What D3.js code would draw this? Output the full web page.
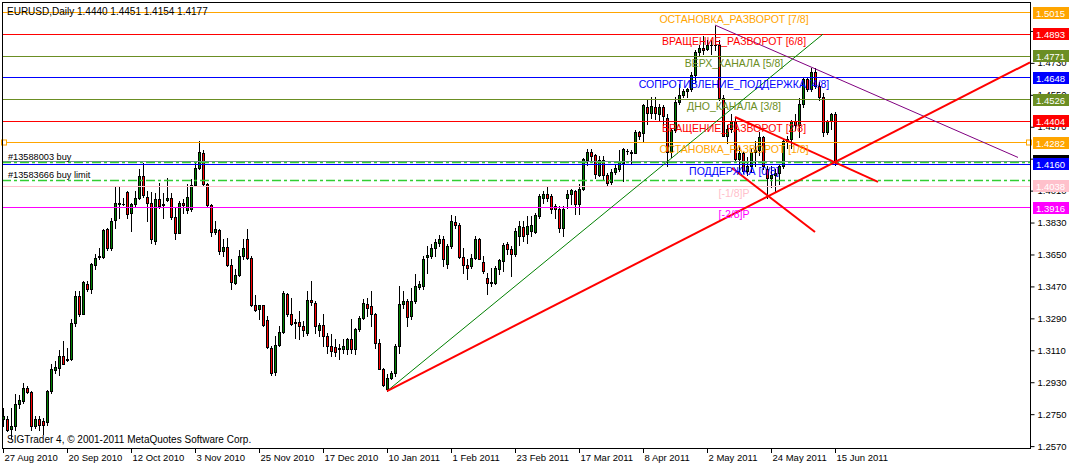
<!DOCTYPE html>
<html><head><meta charset="utf-8">
<script src="https://cdn.jsdelivr.net/npm/d3@7"></script>
<style>
body{margin:0;background:#fff}
svg{display:block}
text{font-family:"Liberation Sans",Arial,sans-serif}
</style>
</head><body>
<svg id="c" width="1070" height="465"></svg>
<script>
// ---------------- DATA ----------------
const title = "EURUSD,Daily  1.4440 1.4451 1.4154 1.4177";
const copyright = "SIGTrader 4, © 2001-2011 MetaQuotes Software Corp.";
const tickLabels = ["27 Aug 2010","20 Sep 2010","12 Oct 2010","3 Nov 2010","25 Nov 2010","17 Dec 2010","10 Jan 2011","1 Feb 2011","23 Feb 2011","17 Mar 2011","8 Apr 2011","2 May 2011","24 May 2011","15 Jun 2011"];
const tickBars = [0,16,32,48,64,80,96,112,128,144,160,176,192,208];
const priceTicks = [1.2570,1.2750,1.2930,1.3110,1.3290,1.3470,1.3650,1.3830,1.4010,1.4190,1.4370,1.4550,1.4730,1.4910];

const opens = [1.2720,1.2720,1.2667,1.2682,1.2810,1.2823,1.2896,1.2876,1.2682,1.2723,1.2710,1.2705,1.2883,1.2998,1.3011,1.3077,1.3058,1.3062,1.3265,1.3415,
1.3317,1.3485,1.3457,1.3588,1.3633,1.3637,1.3791,1.3688,1.3844,1.3934,1.3934,1.4004,1.3881,1.3932,1.3966,1.4092,1.3975,1.3942,1.3725,1.3964,
1.3932,1.3957,1.3970,1.3863,1.3772,1.3938,1.3900,1.3904,1.4041,1.4135,1.4220,1.4045,1.3927,1.3776,1.3787,1.3669,1.3693,1.3590,1.3490,1.3535,
1.3641,1.3739,1.3630,1.3368,1.3340,1.3364,1.3278,1.3124,1.2988,1.3142,1.3214,1.3425,1.3312,1.3265,1.3268,1.3246,1.3208,1.3393,1.3378,1.3222,
1.3250,1.3190,1.3134,1.3130,1.3115,1.3119,1.3119,1.3171,1.3119,1.3228,1.3294,1.3369,1.3359,1.3312,1.3153,1.3006,1.2893,1.2955,1.2983,1.3134,
1.3369,1.3388,1.3303,1.3388,1.3469,1.3472,1.3638,1.3641,1.3688,1.3717,1.3739,1.3594,1.3698,1.3833,1.3814,1.3638,1.3589,1.3585,1.3632,1.3735,
1.3608,1.3515,1.3491,1.3491,1.3566,1.3613,1.3707,1.3683,1.3655,1.3754,1.3805,1.3763,1.3782,1.3777,1.3867,1.3970,1.3993,1.3980,1.3923,1.3908,
1.3801,1.3970,1.3993,1.4008,1.3933,1.4021,1.4183,1.4228,1.4209,1.4096,1.4183,1.4096,1.4060,1.4115,1.4130,1.4168,1.4234,1.4224,1.4224,1.4341,
1.4337,1.4484,1.4450,1.4484,1.4440,1.4480,1.4420,1.4230,1.4350,1.4510,1.4550,1.4570,1.4580,1.4660,1.4790,1.4815,1.4810,1.4830,1.4830,1.4830,
1.4530,1.4320,1.4360,1.4400,1.4190,1.4220,1.4120,1.4150,1.4230,1.4240,1.4310,1.4130,1.4080,1.4100,1.4110,1.4150,1.4290,1.4300,1.4400,1.4380,
1.4500,1.4640,1.4580,1.4680,1.4600,1.4540,1.4340,1.4400,1.4440];
const highs = [1.2785,1.2739,1.2785,1.2861,1.2859,1.2926,1.2908,1.2879,1.2739,1.2739,1.2729,1.2889,1.3030,1.3049,1.3114,1.3161,1.3124,1.3287,1.3443,1.3443,
1.3500,1.3500,1.3603,1.3650,1.3688,1.3791,1.3801,1.3857,1.4036,1.4036,1.3970,1.4007,1.3942,1.4007,1.4130,1.4167,1.4007,1.4002,1.3998,1.4054,
1.3998,1.4083,1.3998,1.3913,1.3951,1.3960,1.4045,1.4073,1.4177,1.4288,1.4240,1.4054,1.3932,1.3838,1.3791,1.3735,1.3744,1.3622,1.3566,1.3678,
1.3735,1.3791,1.3641,1.3419,1.3368,1.3368,1.3302,1.3133,1.3190,1.3246,1.3443,1.3434,1.3406,1.3284,1.3331,1.3275,1.3443,1.3500,1.3387,1.3265,
1.3312,1.3208,1.3200,1.3171,1.3143,1.3171,1.3181,1.3284,1.3237,1.3303,1.3397,1.3406,1.3444,1.3322,1.3175,1.3012,1.2974,1.2993,1.3143,1.3472,
1.3444,1.3397,1.3463,1.3538,1.3500,1.3641,1.3698,1.3707,1.3735,1.3758,1.3754,1.3707,1.3871,1.3867,1.3828,1.3688,1.3623,1.3650,1.3754,1.3745,
1.3641,1.3547,1.3576,1.3585,1.3626,1.3713,1.3720,1.3698,1.3801,1.3839,1.3839,1.3867,1.3867,1.3882,1.3989,1.4008,1.4036,1.3989,1.3933,1.3923,
1.3923,1.4014,1.4021,1.4014,1.4046,1.4196,1.4247,1.4243,1.4215,1.4205,1.4205,1.4108,1.4130,1.4158,1.4239,1.4252,1.4243,1.4239,1.4352,1.4346,
1.4497,1.4525,1.4540,1.4540,1.4500,1.4490,1.4440,1.4360,1.4540,1.4610,1.4580,1.4590,1.4680,1.4800,1.4830,1.4880,1.4860,1.4860,1.4940,1.4860,
1.4550,1.4380,1.4440,1.4420,1.4260,1.4230,1.4200,1.4250,1.4290,1.4340,1.4320,1.4150,1.4150,1.4130,1.4160,1.4300,1.4320,1.4410,1.4440,1.4530,
1.4650,1.4650,1.4700,1.4700,1.4620,1.4560,1.4410,1.4450,1.4451];
const lows = [1.2682,1.2654,1.2616,1.2663,1.2785,1.2814,1.2870,1.2663,1.2673,1.2663,1.2641,1.2691,1.2870,1.2983,1.2973,1.3030,1.3049,1.3058,1.3246,1.3302,
1.3312,1.3443,1.3434,1.3566,1.3622,1.3631,1.3678,1.3678,1.3801,1.3857,1.3928,1.3857,1.3782,1.3923,1.3960,1.3975,1.3838,1.3716,1.3707,1.3913,
1.3857,1.3951,1.3848,1.3739,1.3769,1.3885,1.3885,1.3895,1.4036,1.4130,1.4036,1.3923,1.3754,1.3763,1.3650,1.3641,1.3584,1.3453,1.3481,1.3528,
1.3622,1.3622,1.3359,1.3331,1.3287,1.3246,1.3124,1.2973,1.2973,1.3133,1.3208,1.3302,1.3255,1.3180,1.3171,1.3190,1.3199,1.3368,1.3208,1.3190,
1.3133,1.3096,1.3077,1.3077,1.3059,1.3096,1.3087,1.3096,1.3087,1.3218,1.3284,1.3303,1.3247,1.3124,1.3002,1.2908,1.2880,1.2946,1.2965,1.3096,
1.3350,1.3247,1.3284,1.3378,1.3453,1.3453,1.3547,1.3632,1.3641,1.3698,1.3585,1.3576,1.3688,1.3801,1.3632,1.3547,1.3510,1.3576,1.3623,1.3623,
1.3547,1.3425,1.3472,1.3482,1.3538,1.3557,1.3651,1.3529,1.3641,1.3702,1.3726,1.3717,1.3754,1.3773,1.3858,1.3942,1.3952,1.3886,1.3858,1.3777,
1.3754,1.3914,1.3933,1.3876,1.3876,1.4014,1.4153,1.4177,1.4083,1.4092,1.4074,1.4036,1.4046,1.4102,1.4121,1.4064,1.4215,1.4158,1.4221,1.4303,
1.4290,1.4384,1.4422,1.4412,1.4400,1.4380,1.4150,1.4200,1.4340,1.4500,1.4540,1.4540,1.4570,1.4620,1.4770,1.4780,1.4800,1.4780,1.4800,1.4520,
1.4320,1.4280,1.4340,1.4180,1.4110,1.4110,1.4100,1.4120,1.4150,1.4210,1.4130,1.3970,1.4030,1.4000,1.4050,1.4140,1.4250,1.4250,1.4350,1.4310,
1.4480,1.4570,1.4570,1.4590,1.4520,1.4320,1.4330,1.4360,1.4154];
const closes = [1.2739,1.2663,1.2682,1.2808,1.2829,1.2896,1.2876,1.2682,1.2723,1.2691,1.2691,1.2883,1.3002,1.3017,1.3077,1.3035,1.3062,1.3265,1.3415,1.3312,
1.3494,1.3453,1.3594,1.3631,1.3641,1.3787,1.3688,1.3838,1.3938,1.3938,1.3936,1.3880,1.3932,1.3966,1.4092,1.3983,1.3942,1.3735,1.3964,1.3923,
1.3928,1.3970,1.3863,1.3772,1.3938,1.3927,1.3975,1.4041,1.4139,1.4225,1.4045,1.3927,1.3776,1.3791,1.3669,1.3693,1.3590,1.3494,1.3537,1.3641,
1.3688,1.3630,1.3368,1.3336,1.3364,1.3252,1.3129,1.2983,1.3142,1.3214,1.3434,1.3312,1.3261,1.3267,1.3246,1.3223,1.3393,1.3381,1.3246,1.3250,
1.3190,1.3133,1.3106,1.3102,1.3124,1.3134,1.3171,1.3119,1.3232,1.3294,1.3374,1.3350,1.3312,1.3153,1.3006,1.2912,1.2955,1.2983,1.3134,1.3369,
1.3388,1.3299,1.3388,1.3472,1.3482,1.3626,1.3645,1.3688,1.3720,1.3739,1.3623,1.3698,1.3839,1.3814,1.3638,1.3589,1.3576,1.3632,1.3735,1.3626,
1.3557,1.3491,1.3493,1.3576,1.3617,1.3702,1.3683,1.3655,1.3782,1.3811,1.3754,1.3811,1.3814,1.3871,1.3980,1.3993,1.3970,1.3908,1.3905,1.3801,
1.3908,1.3993,1.4014,1.3933,1.4021,1.4187,1.4228,1.4205,1.4102,1.4183,1.4096,1.4051,1.4115,1.4140,1.4172,1.4243,1.4236,1.4228,1.4341,1.4318,
1.4491,1.4446,1.4487,1.4450,1.4480,1.4430,1.4230,1.4350,1.4510,1.4550,1.4570,1.4580,1.4660,1.4790,1.4815,1.4805,1.4830,1.4830,1.4830,1.4530,
1.4320,1.4360,1.4400,1.4190,1.4220,1.4120,1.4150,1.4230,1.4240,1.4310,1.4150,1.4080,1.4100,1.4110,1.4150,1.4290,1.4300,1.4400,1.4380,1.4500,
1.4640,1.4580,1.4680,1.4600,1.4540,1.4340,1.4400,1.4440,1.4177];

const murreyPrices = [1.5015,1.4893,1.4771,1.4648,1.4526,1.4404,1.4282,1.4160,1.4038,1.3916];
const murreyNames = ["ОСТАНОВКА_РАЗВОРОТ [7/8]","ВРАЩЕНИЕ_РАЗВОРОТ [6/8]","ВЕРХ_КАНАЛА [5/8]","СОПРОТИВЛЕНИЕ_ПОДДЕРЖКА [4/8]","ДНО_КАНАЛА [3/8]","ВРАЩЕНИЕ_РАЗВОРОТ [2/8]","ОСТАНОВКА_РАЗВОРОТ [1/8]","ПОДДЕРЖКА [0/8]","[-1/8]P","[-2/8]P"];
const murreyColors = ["#ffa500","#ff0000","#6b8e23","#0000ff","#6b8e23","#ff0000","#ffa500","#0000ff","#ffc0cb","#ff00ff"];

const orderPrices = [1.4178, 1.4070];
const orderNames = ["#13588003 buy", "#13583666 buy limit"];
const orderTpPrice = 1.4171;
const bidPrice = 1.4177;

// trend objects: [bar, price] anchor pairs
const greenTrendBars = [96, 205],  greenTrendPrices = [1.2880, 1.4892];
const redRayBars = [96, 191],      redRayPrices = [1.2880, 1.3975];
const redX1Bars = [183, 218.75],   redX1Prices = [1.4425, 1.4059];
const redX2Bars = [182.25, 203],   redX2Prices = [1.4137, 1.3777];
const purpleBars = [178, 253.75],  purplePrices = [1.4943, 1.4197];

// ---------------- DRAW ----------------
const svg = d3.select("#c");
const L = 2, R = 1030, T = 2, B = 448;
const x = d3.scaleLinear().domain([0, 208]).range([3, 835]);
const y = d3.scaleLinear().domain([1.2570, 1.5015]).range([446.1, 12.3]);
const py = v => Math.round(y(v)) + 0.5;

svg.append("defs").append("clipPath").attr("id","clip")
  .append("rect").attr("x",L).attr("y",T).attr("width",R-L).attr("height",B-T);
const plot = svg.append("g").attr("clip-path","url(#clip)");

// candles
const bars = d3.range(opens.length);
const cg = plot.append("g").attr("shape-rendering","crispEdges");
bars.forEach(i => {
  const cx = Math.round(x(i));
  const o = opens[i], c = closes[i], h = highs[i], l = lows[i];
  cg.append("rect").attr("x",cx).attr("width",1)
    .attr("y",Math.round(y(h))).attr("height",Math.max(1,Math.round(y(l))-Math.round(y(h))+1)).attr("fill","#000");
  const top = Math.round(y(Math.max(o,c))), bot = Math.round(y(Math.min(o,c)));
  if (bot - top < 1) {
    cg.append("rect").attr("x",cx-1).attr("width",3).attr("y",top).attr("height",1).attr("fill","#000");
  } else {
    cg.append("rect").attr("x",cx-1).attr("width",3).attr("y",top).attr("height",bot-top+1).attr("fill","#000");
    if (bot - top - 1 > 0)
      cg.append("rect").attr("x",cx).attr("width",1).attr("y",top+1).attr("height",bot-top-1)
        .attr("fill", c >= o ? "#008000" : "#ff0000");
  }
});

// murrey horizontal levels
murreyPrices.forEach((p,k) => {
  plot.append("line").attr("x1",L).attr("x2",R).attr("y1",py(p)).attr("y2",py(p))
    .attr("stroke",murreyColors[k]).attr("stroke-width",1);
});
// order lines
plot.append("line").attr("x1",L).attr("x2",R).attr("y1",py(orderPrices[0])).attr("y2",py(orderPrices[0]))
  .attr("stroke","#778899");
[orderTpPrice, orderPrices[1]].forEach(p => {
  plot.append("line").attr("x1",L).attr("x2",R).attr("y1",py(p)).attr("y2",py(p))
    .attr("stroke","#32cd32").attr("stroke-width",1.3).attr("stroke-dasharray","9,3,3,3");
});

// trend lines
function seg(bs, ps, color, w, extend) {
  let x1 = x(bs[0]), y1 = y(ps[0]), x2 = x(bs[1]), y2 = y(ps[1]);
  if (extend) { const s = (y2-y1)/(x2-x1); x2 = R; y2 = y1 + s*(R - x1); }
  plot.append("line").attr("x1",x1).attr("y1",y1).attr("x2",x2).attr("y2",y2)
    .attr("stroke",color).attr("stroke-width",w);
}
seg(greenTrendBars, greenTrendPrices, "#008000", 1, false);
seg(purpleBars, purplePrices, "#800080", 1, false);
seg(redRayBars, redRayPrices, "#ff0000", 2, true);
seg(redX1Bars, redX1Prices, "#ff0000", 2, false);
seg(redX2Bars, redX2Prices, "#ff0000", 2, false);

// level labels
murreyPrices.forEach((p,k) => {
  plot.append("text").attr("x",734).attr("y",py(p)+10).attr("text-anchor","middle")
    .attr("font-size","10.5px").attr("fill",murreyColors[k]).text(murreyNames[k]);
});
// order labels
plot.append("text").attr("x",8).attr("y",py(orderPrices[0])-2).attr("font-size","9.2px").attr("fill","#000").text(orderNames[0]);
plot.append("text").attr("x",8).attr("y",py(orderPrices[1])-3).attr("font-size","9.2px").attr("fill","#000").text(orderNames[1]);

// selection squares on the 1/8 line
[4, R-1].forEach(xx => {
  svg.append("rect").attr("x",xx-2.5).attr("y",py(murreyPrices[6])-2.5).attr("width",5).attr("height",5)
    .attr("fill","#fff").attr("stroke","#ffa500");
});

// frame
svg.append("g").attr("shape-rendering","crispEdges").call(g => {
  g.append("line").attr("x1",L+0.5).attr("x2",L+0.5).attr("y1",T).attr("y2",B).attr("stroke","#000");
  g.append("line").attr("x1",L).attr("x2",R).attr("y1",T+0.5).attr("y2",T+0.5).attr("stroke","#000");
  g.append("line").attr("x1",L).attr("x2",R+1).attr("y1",B+0.5).attr("y2",B+0.5).attr("stroke","#000");
  g.append("line").attr("x1",R+0.5).attr("x2",R+0.5).attr("y1",T).attr("y2",B+1).attr("stroke","#000");
});

// right price axis
const ax = svg.append("g").attr("transform",`translate(${R+0.5},0)`)
  .call(d3.axisRight(y).tickValues(priceTicks).tickSize(4).tickPadding(3).tickFormat(d3.format(".4f")));
ax.select(".domain").remove();
ax.selectAll("text").attr("font-family","Liberation Sans, Arial, sans-serif").attr("font-size","9.5px").attr("fill","#000");
ax.selectAll("line").attr("stroke","#000");

// bid box (behind) and level boxes
function box(p, color, txtColor) {
  const yc = y(p);
  svg.append("rect").attr("x",R+3).attr("y",Math.round(yc-5.5)).attr("width",36).attr("height",12).attr("fill",color);
  svg.append("text").attr("x",R+6).attr("y",Math.round(yc-5.5)+9.5).attr("font-size","9.5px").attr("fill",txtColor)
    .text(d3.format(".4f")(p));
}
box(bidPrice, "#000", "#fff");
murreyPrices.forEach((p,k) => box(p, murreyColors[k], "#fff"));

// bottom time axis
const tg = svg.append("g");
tickBars.forEach((b,k) => {
  const xx = Math.round(x(b)) + 0.5;
  tg.append("line").attr("x1",xx).attr("x2",xx).attr("y1",B).attr("y2",B+5).attr("stroke","#000");
  tg.append("text").attr("x",xx+1).attr("y",B+13).attr("font-size","9.5px").attr("fill","#000").text(tickLabels[k]);
});

// title & copyright
svg.append("text").attr("x",7).attr("y",15).attr("font-size","10px").attr("fill","#000").text(title);
svg.append("text").attr("x",7).attr("y",443).attr("font-size","10px").attr("fill","#000").text(copyright);
</script>
</body></html>
